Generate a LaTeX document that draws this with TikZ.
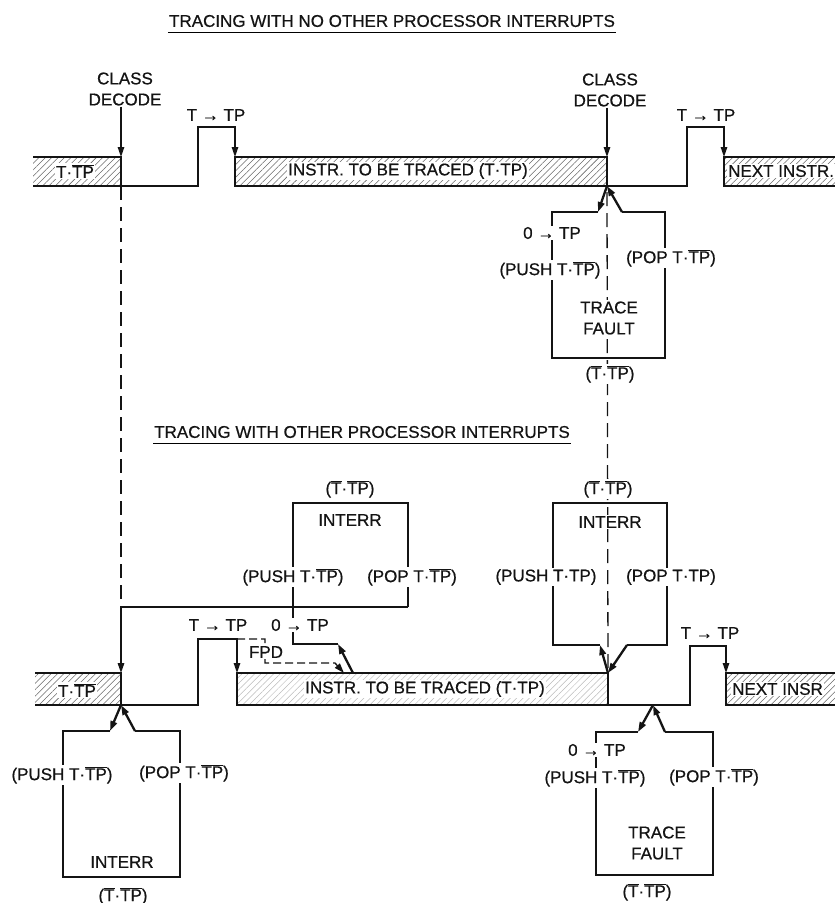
\documentclass[tikz,border=0pt]{standalone}
\usepackage{fontspec}
\setmainfont{Liberation Sans}[FakeBold=0.6]
\usepackage{tikz}
\usetikzlibrary{arrows.meta,patterns.meta,positioning,calc}
\definecolor{inkBlack}{RGB}{20,20,20}
\definecolor{hatchGray}{RGB}{105,105,105}
\newcommand{\nbar}[1]{$\overline{\mbox{#1}}$}
\tikzset{
  lbl/.style={font=\fontsize{17}{20}\selectfont, inner sep=1pt, text=inkBlack},
  lblbg/.style={lbl, fill=white},
  twoline/.style={lblbg, align=center, font=\fontsize{17}{21}\selectfont},
  bandline/.style={line width=2.6pt, draw=inkBlack},
  boxline/.style={line width=2.3pt, draw=inkBlack},
  pulseline/.style={line width=1.3pt, draw=inkBlack},
  returnline/.style={line width=1.6pt, draw=inkBlack},
  dashline/.style={line width=1.3pt, draw=inkBlack, dash pattern=on 14pt off 7pt},
  fpdline/.style={line width=1.3pt, draw=inkBlack, dash pattern=on 8pt off 4pt},
  tipArrow/.style={-{Triangle[length=10pt,width=6.5pt]}},
  hatchband/.style={pattern={Lines[angle=45,distance=4.5pt,line width=0.55pt]}, pattern color=hatchGray},
  lighthatch/.style={pattern={Lines[angle=45,distance=4.5pt,line width=0.5pt]}, pattern color=hatchGray!45}
}

\begin{document}
\begin{tikzpicture}[x=1pt,y=-1pt]
\useasboundingbox (0,0) rectangle (835,903);

% titles
\node[lbl] (ttlUp) at (392,21) {TRACING WITH NO OTHER PROCESSOR INTERRUPTS};
\draw[line width=1pt] ([yshift=-4pt]ttlUp.south west) -- ([yshift=-4pt]ttlUp.south east);
\node[lbl] (ttlLow) at (362,432) {TRACING WITH OTHER PROCESSOR INTERRUPTS};
\draw[line width=1pt] ([yshift=-4pt]ttlLow.south west) -- ([yshift=-4pt]ttlLow.south east);

% junctions
\coordinate (jUpA) at (121,186);
\coordinate (jUpB) at (607,186);
\coordinate (jLowA) at (121,705);
\coordinate (jLowMid) at (353,673);
\coordinate (jLowB) at (608,673);
\coordinate (jLowC) at (653,705);

% upper timeline
\fill[hatchband] (33,157) rectangle (121,186);
\fill[hatchband] (235,157) rectangle (607,186);
\fill[hatchband] (724,157) rectangle (845,186);
\draw[bandline] (33,157) -- (121,157) -- (121,186) -- (33,186);
\draw[bandline] (235,157) rectangle (607,186);
\draw[bandline] (845,157) -- (724,157) -- (724,186) -- (845,186);
\draw[pulseline,tipArrow] (jUpA) -- (198,186) -- (198,127) -- (235,127) -- (235,157);
\draw[pulseline,tipArrow] (jUpB) -- (687,186) -- (687,127) -- (724,127) -- (724,157);

\node[twoline] (decUpA) at (125,89) {CLASS\\DECODE};
\node[twoline] (decUpB) at (610,90) {CLASS\\DECODE};
\draw[pulseline,tipArrow] (decUpA.south -| jUpA) -- (121,157);
\draw[pulseline,tipArrow] (decUpB.south -| jUpB) -- (607,157);
\node[lblbg] (setUpA) at (216,115) {T → TP};
\node[lblbg] (setUpB) at (706,115) {T → TP};

% dashed tracks
\draw[dashline] (jUpA) -- (121,607);
\draw[dashline] ([yshift=-6pt]jUpB) -- (jLowB);

% upper trace fault
\draw[boxline,tipArrow] (jUpB) -- (598,212);
\draw[boxline] (598,212) -- (552,212) -- (552,358) -- (665,358) -- (665,212) -- (622,212);
\draw[boxline,tipArrow] (622,212) -- (jUpB);
\node[lblbg] (clrUp) at (552,233) {0 → TP};
\node[lblbg] (pushUp) at (550,270) {(PUSH T·\nbar{TP})};
\node[lblbg] (popUp) at (671,258) {(POP T·\nbar{TP})};
\node[twoline] (faultUp) at (609,318) {TRACE\\FAULT};
\node[lblbg] (stUp) at (610,374) {(\nbar{T}·\nbar{TP})};

% lower timeline
\fill[hatchband] (35,673) rectangle (121,705);
\fill[lighthatch] (237,673) rectangle (608,705);
\fill[hatchband] (726,673) rectangle (845,705);
\draw[bandline] (35,673) -- (121,673) -- (121,705) -- (35,705);
\draw[bandline] (237,673) rectangle (608,705);
\draw[bandline] (845,673) -- (726,673) -- (726,705) -- (845,705);
\draw[pulseline,tipArrow] (jLowA) -- (198,705) -- (198,639) -- (237,639) -- (237,673);
\draw[pulseline,tipArrow] (608,705) -- (690,705) -- (690,646) -- (726,646) -- (726,673);
\node[lblbg] (setLowA) at (218,625) {T → TP};
\node[lblbg] (setLowB) at (710,633) {T → TP};

% middle interrupt
\draw[boxline] (338,644) -- (293,644) -- (293,503) -- (408,503) -- (408,607);
\draw[returnline,tipArrow] (408,607) -- (121,607) -- (121,673);
\draw[boxline,tipArrow] (jLowMid) -- (338,644);
\draw[fpdline,tipArrow] (237,639) -- (265,639) -- (265,663) -- (335,663) -- (344,673);
\node[lblbg] (fpd) at (266,652) {FPD};
\node[lblbg] (stMid) at (350,489) {(\nbar{T}·\nbar{TP})};
\node[lblbg] (intMid) at (350,520) {INTERR};
\node[lblbg] (pushMid) at (293,577) {(PUSH T·\nbar{TP})};
\node[lblbg] (popMid) at (412,577) {(POP T·\nbar{TP})};
\node[lblbg] (clrMid) at (300,625) {0 → TP};

% right interrupt
\draw[boxline,tipArrow] (jLowB) -- (600,645);
\draw[boxline] (600,645) -- (553,645) -- (553,503) -- (667,503) -- (667,645) -- (627,645);
\draw[boxline,tipArrow] (627,645) -- (jLowB);
\node[lblbg] (stRight) at (608,489) {(\nbar{T}·\nbar{TP})};
\node[lblbg] (intRight) at (610,522) {INTERR};
\node[lblbg] (pushRight) at (546,577) {(PUSH T·TP)};
\node[lblbg] (popRight) at (671,577) {(POP T·TP)};

% left interrupt
\draw[boxline,tipArrow] (jLowA) -- (110,731);
\draw[boxline] (110,731) -- (63,731) -- (63,877) -- (180,877) -- (180,731) -- (135,731);
\draw[boxline,tipArrow] (135,731) -- (jLowA);
\node[lblbg] (pushLeft) at (62,775) {(PUSH T·\nbar{TP})};
\node[lblbg] (popLeft) at (184,773) {(POP T·\nbar{TP})};
\node[lblbg] (intLeft) at (122,862) {INTERR};
\node[lblbg] (stLeft) at (123,896) {(\nbar{T}·\nbar{TP})};

% lower trace fault
\draw[boxline,tipArrow] (jLowC) -- (638,732);
\draw[boxline] (638,732) -- (596,732) -- (596,875) -- (713,875) -- (713,732) -- (665,732);
\draw[boxline,tipArrow] (665,732) -- (jLowC);
\node[lblbg] (clrLow) at (597,750) {0 → TP};
\node[lblbg] (pushLow) at (595,778) {(PUSH T·\nbar{TP})};
\node[lblbg] (popLow) at (714,777) {(POP T·\nbar{TP})};
\node[twoline] (faultLow) at (657,843) {TRACE\\FAULT};
\node[lblbg] (stLow) at (647,892) {(\nbar{T}·\nbar{TP})};

% band texts
\node[lblbg] (bandUpA) at (75,171) {T·\nbar{TP}};
\node[lblbg] (bandUpB) at (408,171) {INSTR. TO BE TRACED (T·TP)};
\node[lblbg, anchor=west] (bandUpC) at (727,171) {NEXT INSTR.};
\node[lblbg] (bandLowA) at (77,690) {T·\nbar{TP}};
\node[lblbg] (bandLowB) at (425,689) {INSTR. TO BE TRACED (T·TP)};
\node[lblbg, anchor=west] (bandLowC) at (731,689) {NEXT INSR};
\end{tikzpicture}
\end{document}
